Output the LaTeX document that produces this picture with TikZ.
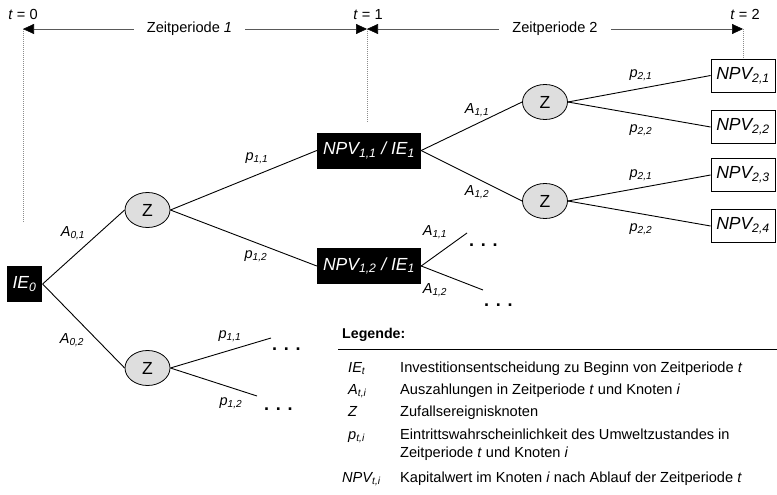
\documentclass[tikz,border=0pt]{standalone}
\usepackage{fontspec}
\setmainfont{Liberation Sans}
\usetikzlibrary{shapes.geometric,arrows.meta}

% subscript in the current shape and size
\newcommand\lsub[1]{\textsubscript{#1}}

\begin{document}
\begin{tikzpicture}[x=1pt,y=-1pt,
  every node/.style={inner sep=0pt},
  nodefont/.style={font=\fontsize{17.5}{20}\selectfont\itshape},
  decision/.style={nodefont, fill=black, text=white, minimum height=36pt, inner xsep=6pt},
  outcome/.style={nodefont, draw=black, line width=0.8pt, fill=white, minimum height=33pt, minimum width=64pt},
  chance/.style={ellipse, draw=black, line width=0.8pt, fill=black!13, minimum width=45pt, minimum height=35pt, font=\fontsize{17.5}{20}\selectfont},
  branch/.style={line width=0.9pt, black},
  elabel/.style={font=\fontsize{14.5}{16}\selectfont\itshape},
  dots/.style={font=\fontsize{18}{20}\selectfont\bfseries, anchor=base west},
  period/.style={line width=0.6pt, black!65, {Triangle[length=11pt,width=10pt,color=black]}-{Triangle[length=11pt,width=10pt,color=black]}},
  periodlabel/.style={font=\fontsize{14.6}{17}\selectfont, fill=white, inner xsep=13pt, inner ysep=3pt},
  tlabel/.style={font=\fontsize{14.6}{17}\selectfont, anchor=base},
  guide/.style={line width=0.6pt, black!45, dash pattern=on 1pt off 1pt},
  legsym/.style={font=\fontsize{14.6}{17}\selectfont\itshape, anchor=base west},
  legtext/.style={font=\fontsize{14.6}{17}\selectfont, anchor=base west, align=left}
]
\useasboundingbox (0,0) rectangle (777,495);

% ---------- decision tree ----------
\node[decision] (ie0) at (24.5,284) {IE\lsub{0}};
\node[chance] (z1) at (147.5,210) {Z};
\node[chance] (z2) at (147.5,368) {Z};
\node[decision, minimum width=104pt] (n11) at (369,150.5) {NPV\lsub{1,1} / IE\lsub{1}};
\node[decision, minimum width=104pt] (n12) at (369,266) {NPV\lsub{1,2} / IE\lsub{1}};
\node[chance] (z3) at (545,102) {Z};
\node[chance] (z4) at (545,201) {Z};
\node[outcome] (o1) at (743,75.5) {NPV\lsub{2,1}};
\node[outcome] (o2) at (743,127) {NPV\lsub{2,2}};
\node[outcome] (o3) at (743,175) {NPV\lsub{2,3}};
\node[outcome] (o4) at (743,226) {NPV\lsub{2,4}};

\draw[branch] (ie0.east) -- (z1.west);
\draw[branch] (ie0.east) -- (z2.west);
\draw[branch] (z1.east) -- (n11.west);
\draw[branch] (z1.east) -- (n12.west);
\draw[branch] (n11.east) -- (z3.west);
\draw[branch] (n11.east) -- (z4.west);
\draw[branch] (z3.east) -- (o1.west);
\draw[branch] (z3.east) -- (o2.west);
\draw[branch] (z4.east) -- (o3.west);
\draw[branch] (z4.east) -- (o4.west);

% open branches
\coordinate (e1) at (467,233);
\coordinate (e2) at (483,290);
\coordinate (e3) at (271,338);
\coordinate (e4) at (257,396);
\draw[branch] (n12.east) -- (e1);
\draw[branch] (n12.east) -- (e2);
\draw[branch] (z2.east) -- (e3);
\draw[branch] (z2.east) -- (e4);
\node[dots] (d1) at (469,246) {. . .};
\node[dots] (d2) at (484,306) {. . .};
\node[dots] (d3) at (272,350) {. . .};
\node[dots] (d4) at (264,410) {. . .};

% branch labels
\node[elabel] (la01) at (73,233) {A\lsub{0,1}};
\node[elabel] (la02) at (72,340) {A\lsub{0,2}};
\node[elabel] (lp11a) at (257,158) {p\lsub{1,1}};
\node[elabel] (lp12a) at (256,256) {p\lsub{1,2}};
\node[elabel] (lp11b) at (230,336) {p\lsub{1,1}};
\node[elabel] (lp12b) at (231,403) {p\lsub{1,2}};
\node[elabel] (la11a) at (477,110) {A\lsub{1,1}};
\node[elabel] (la12a) at (477,192) {A\lsub{1,2}};
\node[elabel] (la11b) at (435,232) {A\lsub{1,1}};
\node[elabel] (la12b) at (435,290) {A\lsub{1,2}};
\node[elabel] (lp21a) at (641,75) {p\lsub{2,1}};
\node[elabel] (lp22a) at (641,130) {p\lsub{2,2}};
\node[elabel] (lp21b) at (641,175) {p\lsub{2,1}};
\node[elabel] (lp22b) at (641,229) {p\lsub{2,2}};

% ---------- time axis ----------
\coordinate (t0) at (23,29);
\coordinate (t1) at (367,29);
\coordinate (t2) at (743,29);
\coordinate (t0b) at (23,222);
\coordinate (t1b) at (367,123);
\draw[guide] (t0) -- (t0b);
\draw[guide] (t1) -- (t1b);
\draw[guide] (t2) -- (o1.north);
\draw[period] (t0) -- (t1);
\draw[period] (t1) -- (t2);
\node[periodlabel] (per1) at (189.5,29) {Zeitperiode \textit{1}};
\node[periodlabel] (per2) at (555,29) {Zeitperiode 2};
\node[tlabel] (lt0) at (23,20) {\textit{t} = 0};
\node[tlabel] (lt1) at (368,20) {\textit{t} = 1};
\node[tlabel] (lt2) at (745,20) {\textit{t} = 2};

% ---------- legend ----------
\node[font=\fontsize{14.2}{17}\selectfont\bfseries, anchor=base west] (leg) at (342,338) {Legende:};
\coordinate (ruleL) at (338,349);
\coordinate (ruleR) at (777,349);
\draw[line width=0.9pt] (ruleL) -- (ruleR);

\node[legsym] (s1) at (348,372) {IE\lsub{t}};
\node[legtext] (x1) at (400,372) {Investitionsentscheidung zu Beginn von Zeitperiode \textit{t}};
\node[legsym] (s2) at (348,394) {A\lsub{t,i}};
\node[legtext] (x2) at (400,394) {Auszahlungen in Zeitperiode \textit{t} und Knoten \textit{i}};
\node[legsym] (s3) at (348,416) {Z};
\node[legtext] (x3) at (400,416) {Zufallsereignisknoten};
\node[legsym] (s4) at (348,439) {p\lsub{t,i}};
\node[legtext] (x4) at (400,439) {Eintrittswahrscheinlichkeit des Umweltzustandes in};
\node[legtext] (x4b) at (400,457) {Zeitperiode \textit{t} und Knoten \textit{i}};
\node[legsym] (s5) at (342,482) {NPV\lsub{t,i}};
\node[legtext] (x5) at (400,482) {Kapitalwert im Knoten \textit{i} nach Ablauf der Zeitperiode \textit{t}};
\end{tikzpicture}
\end{document}
